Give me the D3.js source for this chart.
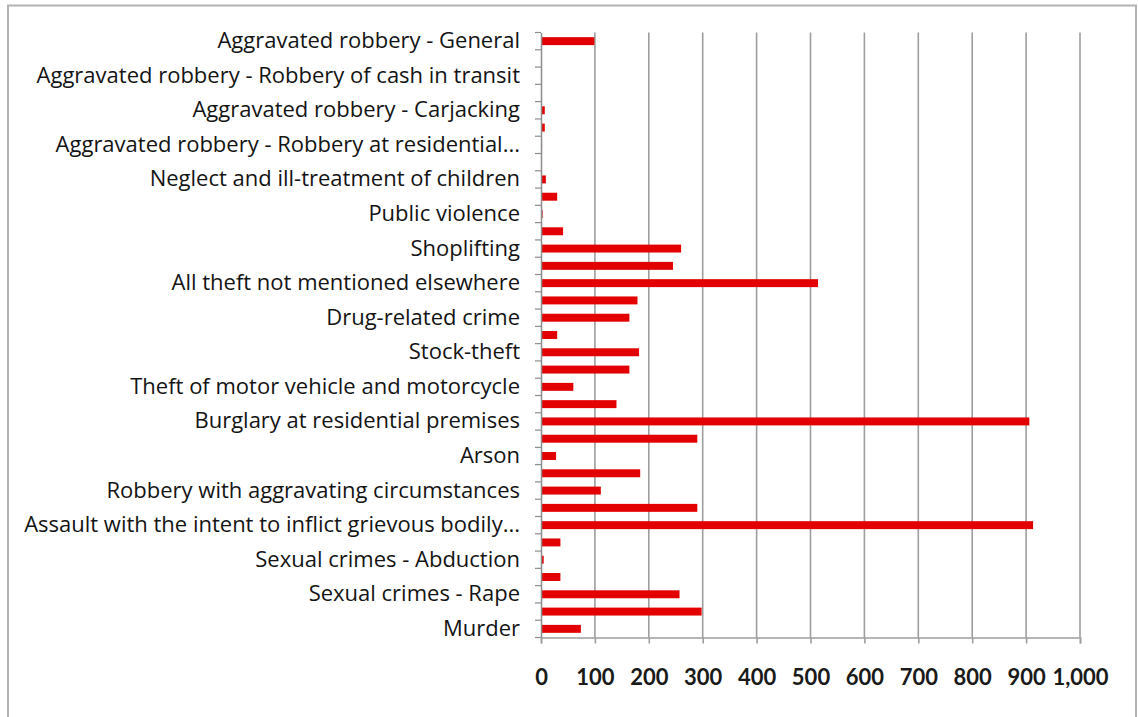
<!DOCTYPE html>
<html>
<head>
<meta charset="utf-8">
<script src="https://cdn.jsdelivr.net/npm/d3@7"></script>
<style>
  html, body { margin: 0; padding: 0; background: #fff; }
  svg { display: block; }
</style>
</head>
<body>
<svg id="chart" width="1138" height="717"></svg>
<script>
// Crime categories, listed from the bottom of the chart upward
const categories = [
  "Murder",
  "Total sexual crimes",
  "Sexual crimes - Rape",
  "Sexual crimes - Sexual assault",
  "Sexual crimes - Abduction",
  "Attempted murder",
  "Assault with the intent to inflict grievous bodily...",
  "Common assault",
  "Robbery with aggravating circumstances",
  "Common robbery",
  "Arson",
  "Malicious damage to property",
  "Burglary at residential premises",
  "Burglary at non-residential premises",
  "Theft of motor vehicle and motorcycle",
  "Theft out of or from motor vehicle",
  "Stock-theft",
  "Illegal possession of firearms and ammunition",
  "Drug-related crime",
  "Driving under the influence of alcohol or drugs",
  "All theft not mentioned elsewhere",
  "Commercial crime",
  "Shoplifting",
  "Culpable homicide",
  "Public violence",
  "Crimen injuria",
  "Neglect and ill-treatment of children",
  "Kidnapping",
  "Aggravated robbery - Robbery at residential...",
  "Aggravated robbery - Robbery at non-residential premises",
  "Aggravated robbery - Carjacking",
  "Aggravated robbery - Truck hijacking",
  "Aggravated robbery - Robbery of cash in transit",
  "Aggravated robbery - Bank robbery",
  "Aggravated robbery - General"
];

// Reported cases per category
const values = [
  74, 298, 257, 36, 5, 36, 913, 290, 111, 184,
  28, 290, 906, 140, 60, 164, 182, 30, 164, 179,
  514, 245, 260, 41, 3, 30, 9, 0, 2, 7,
  7, 0, 0, 0, 99
];

// Value axis ticks
const xTicks = [0, 100, 200, 300, 400, 500, 600, 700, 800, 900, 1000];

const svg = d3.select("#chart");

// Outer chart frame
svg.append("rect")
  .attr("x", 8).attr("y", 5.5)
  .attr("width", 1128).attr("height", 730)
  .attr("fill", "none")
  .attr("stroke", "#b3b3b3")
  .attr("stroke-width", 2);

const plot = { left: 541, right: 1080, top: 32.5, bottom: 637.5 };

const x = d3.scaleLinear()
  .domain([0, 1000])
  .range([plot.left, plot.right]);

const y = d3.scaleBand()
  .domain(categories)
  .range([plot.bottom, plot.top])
  .paddingInner(0.54)
  .paddingOuter(0.27);

// Vertical gridlines
svg.append("g")
  .selectAll("line")
  .data(xTicks.filter(d => d > 0))
  .join("line")
  .attr("x1", d => x(d)).attr("x2", d => x(d))
  .attr("y1", plot.top).attr("y2", plot.bottom)
  .attr("stroke", "#9e9e9e")
  .attr("stroke-width", 1.6);

// Bars
svg.append("g")
  .selectAll("rect")
  .data(categories.map((c, i) => ({ c, v: values[i] })))
  .join("rect")
  .attr("x", x(0))
  .attr("y", d => y(d.c))
  .attr("width", d => Math.max(0, x(d.v) - x(0)))
  .attr("height", y.bandwidth())
  .attr("fill", "#e30000");

// Category axis: every other label, ticks at band boundaries
const yAxis = svg.append("g")
  .attr("transform", `translate(${plot.left},0)`)
  .call(d3.axisLeft(y)
    .tickValues(categories.filter((c, i) => i % 2 === 0))
    .tickSize(0)
    .tickPadding(21));
yAxis.select(".domain").attr("stroke", "#8c8c8c").attr("stroke-width", 1.5);
yAxis.selectAll("text")
  .attr("font-family", "'Open Sans', Lato, sans-serif")
  .attr("font-size", 22)
  .attr("font-weight", 500)
  .attr("fill", "#141414");

const step = y.step();
const boundaries = d3.range(categories.length + 1)
  .map(i => plot.bottom - i * step);
svg.append("g")
  .selectAll("line")
  .data(boundaries)
  .join("line")
  .attr("x1", plot.left - 6).attr("x2", plot.left)
  .attr("y1", d => d).attr("y2", d => d)
  .attr("stroke", "#8c8c8c")
  .attr("stroke-width", 1.2);

// Value axis
const xAxis = svg.append("g")
  .attr("transform", `translate(0,${plot.bottom})`)
  .call(d3.axisBottom(x)
    .tickValues(xTicks)
    .tickSize(6)
    .tickPadding(26)
    .tickFormat(d3.format(",")));
xAxis.select(".domain").attr("stroke", "#9e9e9e").attr("stroke-width", 1.6);
xAxis.selectAll(".tick line").attr("stroke", "#9e9e9e").attr("stroke-width", 1.6);
xAxis.selectAll("text")
  .attr("font-family", "Lato, 'Open Sans', sans-serif")
  .attr("font-weight", "bold")
  .attr("font-size", 22)
  .attr("fill", "#1a1a1a");
</script>
</body>
</html>
